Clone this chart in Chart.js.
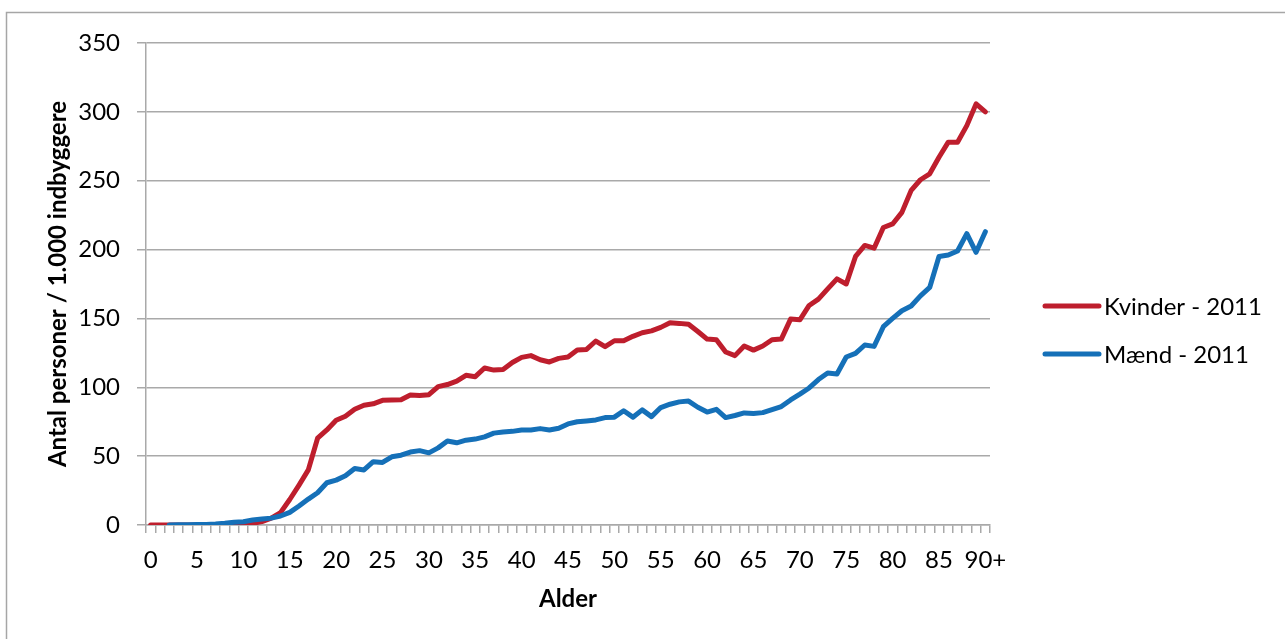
<!DOCTYPE html>
<html>
<head>
<meta charset="utf-8">
<script src="https://cdn.jsdelivr.net/npm/chart.js@4"></script>
<style>
html,body{margin:0;padding:0;background:#fff;}
#wrap{width:1285px;height:639px;}
</style>
</head>
<body>
<div id="wrap"><canvas id="c" width="1285" height="639"></canvas></div>
<script>
const ages = [];
for (let a = 0; a < 90; a++) ages.push(String(a));
ages.push('90+');

const kvinder = [0,0,0,0,0,0,0,0,0.3,0.5,
  0.8,1.2,2.5,5,9,18.5,29,40,63,69,
  76,79,84,87,88,90.5,90.7,91,94.4,94,
  94.6,100.5,102,104.5,108.7,107.7,114,112.5,113,118,
  121.7,123,120,118.4,121,122,127,127.5,133.6,129.5,
  133.8,133.8,137,139.6,141,143.5,146.9,146.4,145.7,140.5,
  135,134.5,125.6,123,130,127,130,134.5,135,149.5,
  149,159.4,164,171.5,178.7,175,195,203,201,216,
  218.6,227,243,250.7,255,267,278,278,290,305.8,
  300];

const maend = [null,null,0,0.2,0.2,0.3,0.4,0.7,1.2,2,
  2.4,3.6,4.3,5,6.5,9.2,13.8,18.8,23.4,30.7,
  32.6,35.7,41,40,46,45.4,49.5,50.7,53,54,
  52.4,56,61,59.7,61.6,62.4,64,66.7,67.6,68,
  69,69,70,69,70.3,73.4,75,75.6,76.3,78,
  78.3,83,78.3,83.6,78.7,85.3,87.7,89.4,90,85.5,
  82,84,78,79.5,81.4,81,81.6,83.8,86,90.8,
  95,99.5,105.6,110.4,109.7,122,124.6,130.7,129.7,144,
  150,155.6,159,166.4,172.5,195,196,199,211.6,198,
  213];

const seriesNames = ['Kvinder - 2011', 'Mænd - 2011'];
const seriesColors = ['#BE1E2D', '#1570B8'];
const xTitle = 'Alder';
const yTitle = 'Antal personer / 1.000 indbyggere';
const yMin = 0, yMax = 350, yStep = 50;
const labelEvery = 5;

const FONT = 'Lato, "Open Sans", sans-serif';
const FS = 24;
const GRID = '#a9a9a9';

const framePlugin = {
  id: 'frame',
  beforeDraw(chart) {
    const ctx = chart.ctx;
    ctx.save();
    ctx.fillStyle = '#fff';
    ctx.fillRect(0, 0, chart.width, chart.height);
    ctx.strokeStyle = '#a6a6a6';
    ctx.lineWidth = 1.5;
    ctx.strokeRect(6.5, 12.5, chart.width + 50, chart.height + 50);
    ctx.restore();
  }
};

const legendPlugin = {
  id: 'customLegend',
  afterDraw(chart) {
    const ctx = chart.ctx;
    const x0 = chart.chartArea.right + 55;
    const y0 = 306, dy = 48;
    ctx.save();
    chart.data.datasets.forEach((ds, i) => {
      const y = y0 + i * dy;
      ctx.strokeStyle = ds.borderColor;
      ctx.lineWidth = 5;
      ctx.lineCap = 'round';
      ctx.beginPath();
      ctx.moveTo(x0, y);
      ctx.lineTo(x0 + 54, y);
      ctx.stroke();
      ctx.fillStyle = '#000';
      ctx.font = FS + 'px ' + FONT;
      ctx.textAlign = 'left';
      ctx.textBaseline = 'middle';
      ctx.fillText(ds.label, x0 + 59, y + 1);
    });
    ctx.restore();
  }
};

new Chart(document.getElementById('c'), {
  type: 'line',
  data: {
    labels: ages,
    datasets: [
      { label: seriesNames[0], data: kvinder, borderColor: seriesColors[0], backgroundColor: seriesColors[0],
        borderWidth: 5, pointRadius: 0, tension: 0, borderJoinStyle: 'round', borderCapStyle: 'round', order: 1 },
      { label: seriesNames[1], data: maend, borderColor: seriesColors[1], backgroundColor: seriesColors[1],
        borderWidth: 5, pointRadius: 0, tension: 0, borderJoinStyle: 'round', borderCapStyle: 'round', order: 0 }
    ]
  },
  options: {
    responsive: false,
    animation: false,
    devicePixelRatio: 1,
    layout: { padding: { left: 30, top: 43, right: 295, bottom: 20 } },
    plugins: {
      legend: { display: false },
      tooltip: { enabled: false }
    },
    scales: {
      x: {
        type: 'category',
        offset: true,
        afterFit(scale) { scale.height = 94; },
        grid: { offset: true, drawOnChartArea: false, drawTicks: true, tickLength: 8, color: GRID, lineWidth: 1.5 },
        border: { color: GRID, width: 1.5 },
        ticks: {
          autoSkip: false, maxRotation: 0, minRotation: 0, padding: 13,
          color: '#000', font: { family: FONT, size: FS },
          callback: function(v, i) { return i % labelEvery === 0 ? this.getLabelForValue(v) : ''; }
        },
        title: { display: true, text: xTitle, color: '#000', font: { family: FONT, size: FS, weight: 'bold' }, padding: { top: 0, bottom: 5 } }
      },
      y: {
        min: yMin, max: yMax,
        afterFit(scale) { scale.width = 116; },
        grid: { color: GRID, lineWidth: 1.5, tickLength: 9 },
        border: { color: GRID, width: 1.5 },
        ticks: { stepSize: yStep, padding: 17, color: '#000', font: { family: FONT, size: FS } },
        title: { display: true, text: yTitle, color: '#000', font: { family: FONT, size: FS, weight: 'bold' }, padding: { top: 14, bottom: 0 } }
      }
    }
  },
  plugins: [framePlugin, legendPlugin]
});
</script>
</body>
</html>
